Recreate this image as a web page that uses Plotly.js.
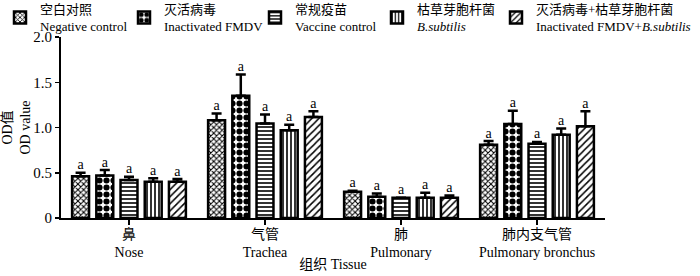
<!DOCTYPE html>
<html><head><meta charset="utf-8">
<script src="https://cdn.plot.ly/plotly-3.0.1.min.js"></script>
<style>html,body{margin:0;padding:0;background:#fff}#chart{width:700px;height:276px}</style>
</head><body><div id="chart"></div>
<script>
const categories = ['鼻<br>Nose', '气管<br>Trachea', '肺<br>Pulmonary', '肺内支气管<br>Pulmonary bronchus'];
const seriesNames = [
  '空白对照<br>Negative control',
  '灭活病毒<br>Inactivated FMDV',
  '常规疫苗<br>Vaccine control',
  '枯草芽胞杆菌<br><i>B.subtilis</i>',
  '灭活病毒+枯草芽胞杆菌<br>Inactivated FMDV+<i>B.subtilis</i>'
];
const negativeControl   = [0.46, 1.08, 0.29, 0.81];
const inactivatedFMDV   = [0.47, 1.35, 0.235, 1.04];
const vaccineControl    = [0.42, 1.045, 0.225, 0.82];
const bSubtilis         = [0.40, 0.97, 0.225, 0.92];
const fmdvBSubtilis     = [0.40, 1.115, 0.225, 1.015];
const negativeControlErr = [0.04, 0.075, 0.012, 0.04];
const inactivatedFMDVErr = [0.06, 0.235, 0.035, 0.145];
const vaccineControlErr  = [0.035, 0.10, 0.0, 0.02];
const bSubtilisErr       = [0.04, 0.06, 0.055, 0.07];
const fmdvBSubtilisErr   = [0.03, 0.065, 0.025, 0.165];
const sigLetters = ['a','a','a','a'];
const yTickVals = [0, 0.5, 1.0, 1.5, 2.0];
const yTickText = ['0', '0.5', '1.0', '1.5', '2.0'];

const values = [negativeControl, inactivatedFMDV, vaccineControl, bSubtilis, fmdvBSubtilis];
const errors = [negativeControlErr, inactivatedFMDVErr, vaccineControlErr, bSubtilisErr, fmdvBSubtilisErr];
const patterns = [
  {shape: 'x', size: 4, solidity: 0.45},
  {shape: '.', size: 7, solidity: 0.6},
  {shape: '-', size: 4, solidity: 0.4},
  {shape: '|', size: 4, solidity: 0.4},
  {shape: '/', size: 5, solidity: 0.3}
];
const legendLeft = [-6, 124, 255, 377, 496];
const serif = '"Liberation Serif", "Times New Roman", "Noto Sans CJK SC", serif';

const legendIds = ['legend', 'legend2', 'legend3', 'legend4', 'legend5'];
const traces = [];
values.forEach((v, i) => {
  traces.push({
    type: 'bar', name: seriesNames[i], x: categories, y: v, legend: legendIds[i],
    marker: {color: 'white', line: {color: 'black', width: 2.5},
      pattern: Object.assign({fgcolor: 'black', bgcolor: 'white', fillmode: 'replace'}, patterns[i])},
    error_y: {type: 'data', symmetric: false, array: errors[i], arrayminus: v.map(() => 0),
      color: 'black', thickness: 2.5, width: 5},
    hoverinfo: 'none'
  });
});
values.forEach((v, i) => {
  traces.push({
    type: 'scatter', mode: 'text', x: categories, y: v.map((val, j) => val + errors[i][j]),
    text: sigLetters, textposition: 'top center', showlegend: false,
    textfont: {family: serif, size: 14, color: 'black'}, hoverinfo: 'none', cliponaxis: false
  });
});

const layout = {
  width: 700, height: 276,
  margin: {l: 61, r: 95, t: 37, b: 58, autoexpand: false},
  paper_bgcolor: 'white', plot_bgcolor: 'white',
  barmode: 'group', bargap: 0.11, bargroupgap: 0.3,
  scattermode: 'group', scattergap: 0.11,
  font: {family: serif, size: 14, color: 'black'},
  showlegend: true,
  xaxis: {
    type: 'category', showline: true, linecolor: 'black', linewidth: 2,
    ticks: 'outside', ticklen: 5, tickwidth: 1.5, tickcolor: 'black',
    ticklabelstandoff: -3,
    tickfont: {family: serif, size: 14}, showgrid: false, zeroline: false,
    title: {text: '组织 Tissue', font: {family: serif, size: 14}, standoff: 0}
  },
  yaxis: {
    range: [0, 2.0], showline: true, linecolor: 'black', linewidth: 2,
    ticks: 'outside', ticklen: 4, tickwidth: 1.5, tickcolor: 'black',
    tickvals: yTickVals, ticktext: yTickText,
    tickfont: {family: serif, size: 15}, showgrid: false, zeroline: false,
    title: {text: 'OD值<br>OD value', font: {family: serif, size: 14}, standoff: 6}
  }
};
legendIds.forEach((id, i) => {
  layout[id] = {orientation: 'h', xref: 'container', yref: 'container',
    x: legendLeft[i] / 700, y: 1 - 41 / 276, xanchor: 'left', yanchor: 'bottom',
    font: {family: serif, size: 13, color: 'black'}, itemwidth: 30,
    bgcolor: 'rgba(0,0,0,0)'};
});
Plotly.newPlot('chart', traces, layout, {displayModeBar: false, staticPlot: true});
</script></body></html>
